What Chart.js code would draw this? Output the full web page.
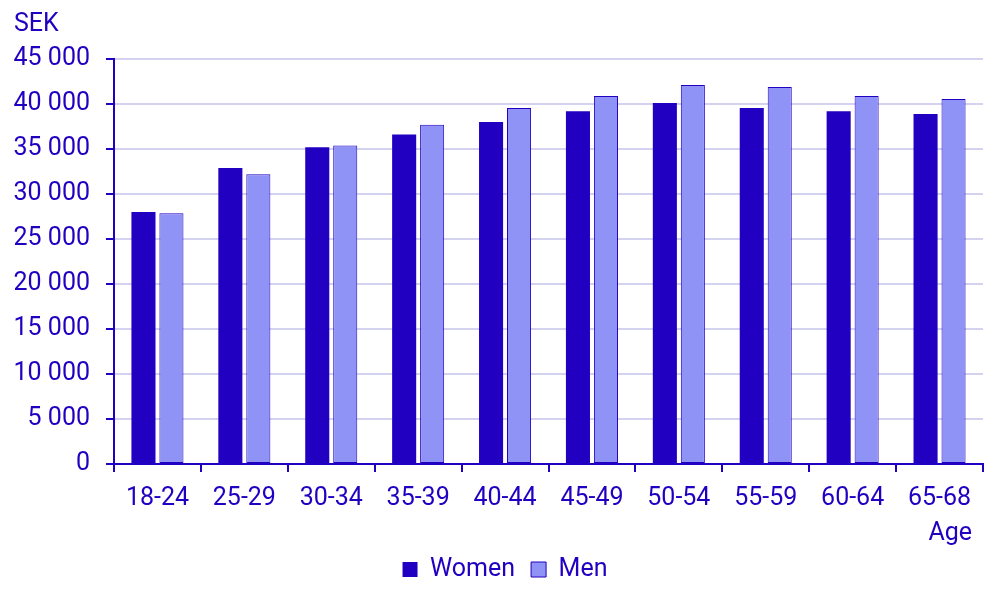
<!DOCTYPE html>
<html>
<head>
<meta charset="utf-8">
<script src="https://cdn.jsdelivr.net/npm/chart.js@4.4.0/dist/chart.umd.min.js"></script>
<style>
  html, body { margin: 0; padding: 0; background: #fff; }
  #wrap { width: 1006px; height: 604px; }
</style>
</head>
<body>
<div id="wrap"><canvas id="myChart" width="1006" height="604"></canvas></div>
<script>
var ageGroups = ['18-24', '25-29', '30-34', '35-39', '40-44', '45-49', '50-54', '55-59', '60-64', '65-68'];
var women = [28000, 32900, 35200, 36600, 38000, 39200, 40100, 39550, 39200, 38900];
var men = [27850, 32200, 35400, 37700, 39550, 40900, 42100, 41900, 40900, 40550];
var yMax = 45000;
var yStep = 5000;

var ink = '#2200C1';
var light = '#D3D3F1';
var font = '25px Roboto, "Noto Sans", sans-serif';

Chart.defaults.font.family = 'Roboto, "Noto Sans", sans-serif';
Chart.defaults.font.size = 25;
Chart.defaults.color = ink;

// axis captions: unit above the y axis, "Age" under the right end of the x axis
var captions = {
  id: 'captions',
  afterDraw: function (chart) {
    var c = chart.ctx;
    var a = chart.chartArea;
    c.save();
    c.fillStyle = ink;
    c.font = font;
    c.textBaseline = 'middle';
    c.textAlign = 'left';
    c.fillText('SEK', 14, 25);
    c.textAlign = 'right';
    c.fillText('Age', a.right - 11, a.bottom + 70);
    c.restore();
  }
};

var ctx = document.getElementById('myChart');
var myChart = new Chart(ctx, {
  type: 'bar',
  data: {
    labels: ageGroups,
    datasets: [{
      label: 'Women',
      data: women,
      backgroundColor: ink,
      borderColor: ink,
      borderWidth: 0,
      categoryPercentage: 0.644,
      barPercentage: 0.86
    }, {
      label: 'Men',
      data: men,
      backgroundColor: '#8F93F5',
      borderColor: ink,
      borderWidth: 1,
      borderSkipped: false,
      categoryPercentage: 0.644,
      barPercentage: 0.86
    }]
  },
  options: {
    responsive: false,
    animation: false,
    layout: { padding: { left: 4, right: 0, top: 59, bottom: 12 } },
    plugins: {
      legend: {
        position: 'bottom',
        labels: {
          boxWidth: 15,
          boxHeight: 15,
          padding: 16,
          font: { size: 25 }
        }
      },
      tooltip: { enabled: false }
    },
    scales: {
      x: {
        border: { color: ink, width: 2 },
        grid: {
          offset: true,
          color: function (c) { return c.index === ageGroups.length ? light : 'rgba(0,0,0,0)'; },
          tickColor: ink,
          lineWidth: 2,
          tickLength: 8
        },
        ticks: { padding: 12 },
        afterFit: function (s) { s.height += 15; }
      },
      y: {
        min: 0,
        max: yMax,
        border: { color: ink, width: 2 },
        grid: {
          color: light,
          tickColor: ink,
          lineWidth: 2,
          tickLength: 8
        },
        ticks: {
          stepSize: yStep,
          padding: 16,
          callback: function (v) {
            return String(v).replace(/\B(?=(\d{3})+(?!\d))/g, ' ');
          }
        },
        afterFit: function (s) { s.width = 110; }
      },
      // empty axis on the right, only to keep a margin there
      spacer: {
        type: 'linear',
        position: 'right',
        grid: { display: false },
        border: { display: false },
        ticks: { display: false },
        afterFit: function (s) { s.width = 23; }
      }
    }
  },
  plugins: [captions]
});
</script>
</body>
</html>
